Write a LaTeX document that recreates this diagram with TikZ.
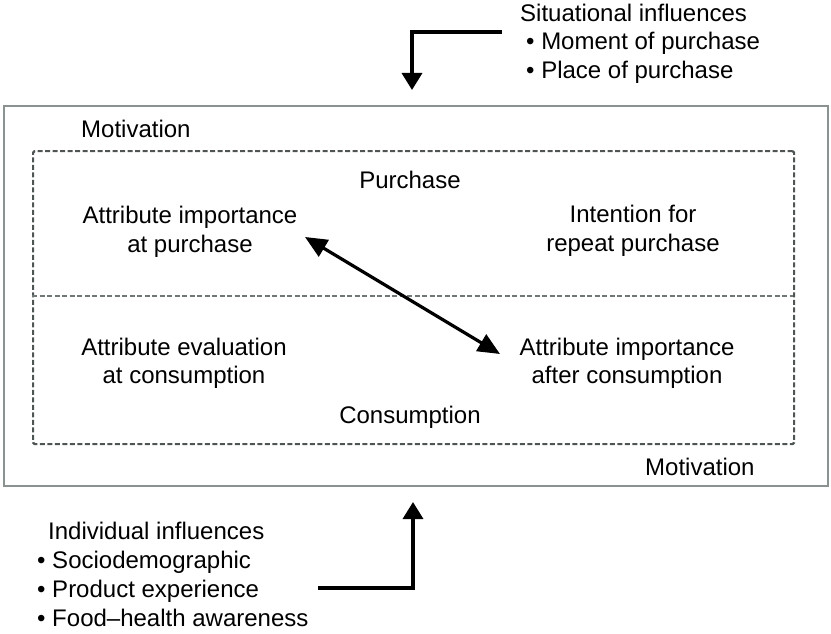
\documentclass[tikz,border=0pt]{standalone}
\usepackage{fontspec}
\setmainfont{Liberation Sans}
\usetikzlibrary{arrows.meta}
\definecolor{boxgray}{HTML}{8A9292}
\definecolor{dashgray}{HTML}{4F5555}
\definecolor{divgray}{HTML}{727878}
\begin{document}
\begin{tikzpicture}[x=1pt,y=-1pt,
  lbl/.style={font=\fontsize{24}{29}\selectfont, inner sep=0pt, anchor=base},
  lblw/.style={lbl, anchor=base west},
  outerbox/.style={draw=boxgray, line width=2pt, inner sep=0pt},
  dashbox/.style={draw=dashgray, line width=2.2pt, dash pattern=on 5pt off 2.5pt, rounded corners=1.5pt, inner sep=0pt},
  divline/.style={draw=divgray, line width=2pt, dash pattern=on 5pt off 2.5pt},
  flow/.style={line width=3.4pt, -{Triangle[length=17pt,width=20pt]}},
  biflow/.style={line width=3.2pt, {Triangle[length=22pt,width=19pt]}-{Triangle[length=22pt,width=19pt]}}]
\useasboundingbox (0,0) rectangle (831,634);
% boxes
\node[outerbox, minimum width=824pt, minimum height=380pt, anchor=north west] (outer) at (3,105) {};
\node[dashbox, minimum width=761pt, minimum height=293pt, anchor=north west] (dash) at (32,150) {};
\coordinate (divl) at (32,296);
\coordinate (divr) at (793,296);
\draw[divline] (divl) -- (divr);
% situational influences
\node[lblw] (sit0) at (520,22) {Situational influences};
\node[lblw] (sit1) at (526,50) {• Moment of purchase};
\node[lblw] (sit2) at (526,79) {• Place of purchase};
\coordinate (sitstart) at (502,32);
\coordinate (sitend) at (412,90);
\draw[flow] (sitstart) -| (sitend);
% inside
\node[lblw] (mot1) at (81,138) {Motivation};
\node[lbl] (purch) at (410,188) {Purchase};
\node[lbl] (aip1) at (190,223) {Attribute importance};
\node[lbl] (aip2) at (190,252) {at purchase};
\node[lbl] (irp1) at (633,222) {Intention for};
\node[lbl] (irp2) at (633,251) {repeat purchase};
\node[lbl] (aec1) at (184,355) {Attribute evaluation};
\node[lbl] (aec2) at (184,383) {at consumption};
\node[lbl] (aic1) at (627,355) {Attribute importance};
\node[lbl] (aic2) at (627,383) {after consumption};
\node[lbl] (cons) at (410,423) {Consumption};
\node[lblw] (mot2) at (645,475) {Motivation};
\coordinate (d1) at (305,237);
\coordinate (d2) at (500,354);
\draw[biflow] (d1) -- (d2);
% individual influences
\node[lblw] (ind0) at (48,539) {Individual influences};
\node[lblw] (ind1) at (37,568) {• Sociodemographic};
\node[lblw] (ind2) at (37,597) {• Product experience};
\node[lblw] (ind3) at (37,626) {• Food–health awareness};
\coordinate (indstart) at (318,588);
\coordinate (indend) at (413,502);
\draw[flow] (indstart) -| (indend);
\end{tikzpicture}
\end{document}
